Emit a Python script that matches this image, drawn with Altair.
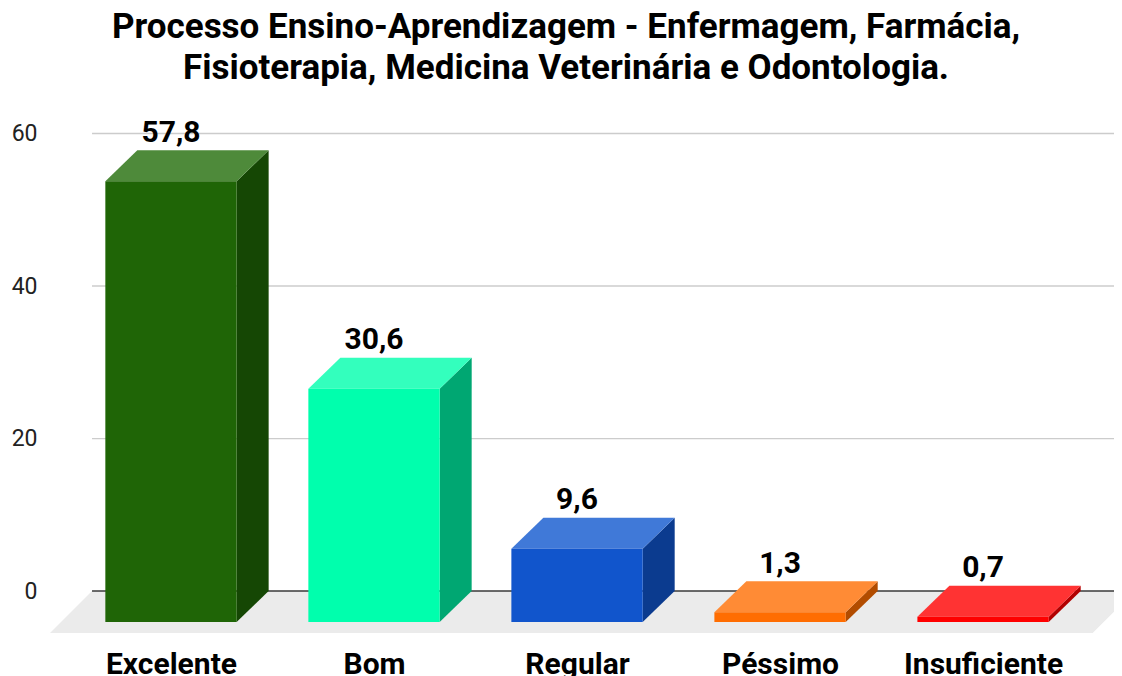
import json
import altair as alt
import pandas as pd

# ---- data ----
categories = ["Excelente", "Bom", "Regular", "Péssimo", "Insuficiente"]
values = [57.8, 30.6, 9.6, 1.3, 0.7]
front_colors = ["#1f6506", "#00ffad", "#1155cc", "#ff6d01", "#ff0000"]
top_colors = ["#4e8a3a", "#33ffbd", "#4079d8", "#ff8b35", "#ff3333"]
side_colors = ["#154704", "#00a772", "#0b3b8f", "#b24c00", "#b20000"]
y_ticks = [0, 20, 40, 60]
grid_ticks = [20, 40, 60]
title_lines = [
    "Processo Ensino-Aprendizagem - Enfermagem, Farmácia,",
    "Fisioterapia, Medicina Veterinária e Odontologia.",
]

# ---- style / geometry parameters ----
HALF = 0.3234        # half width of a bar (x units)
DEPTH_X = 0.1576     # 3D depth shift (x units)
DEPTH_Y = 4.067      # 3D depth shift (y units)
FLOOR_DX = 0.207
X_DOMAIN = [-0.596, 4.645]
Y_DOMAIN = [-5.5, 64.0]
FONT = "Roboto"

n = len(categories)
labels = [f"{v:.1f}".replace(".", ",") for v in values]

fronts, tops, sides, texts = [], [], [], []
for i, (c, v) in enumerate(zip(categories, values)):
    fronts.append(dict(cat=c, x=i - HALF, x2=i + HALF, y=-DEPTH_Y, y2=v - DEPTH_Y, color=front_colors[i]))
    tops.append(dict(cat=c, y=v - DEPTH_Y, x=i - HALF, x2=i + HALF, color=top_colors[i]))
    tops.append(dict(cat=c, y=v, x=i - HALF + DEPTH_X, x2=i + HALF + DEPTH_X, color=top_colors[i]))
    sides.append(dict(cat=c, x=i + HALF, y=-DEPTH_Y, y2=v - DEPTH_Y, color=side_colors[i]))
    sides.append(dict(cat=c, x=i + HALF + DEPTH_X, y=0.0, y2=v, color=side_colors[i]))
    texts.append(dict(cat=c, x=float(i), y=v, label=labels[i]))

floor_right = n - 1 + 0.54
floor = pd.DataFrame([
    dict(y=0.0, x=X_DOMAIN[0] + FLOOR_DX, x2=floor_right + FLOOR_DX),
    dict(y=Y_DOMAIN[0], x=X_DOMAIN[0], x2=floor_right),
])
grid = pd.DataFrame(dict(y=grid_ticks, x=[X_DOMAIN[0] + FLOOR_DX] * len(grid_ticks), x2=[X_DOMAIN[1]] * len(grid_ticks)))
zero = pd.DataFrame(dict(y=[0.0], x=[X_DOMAIN[0] + FLOOR_DX], x2=[X_DOMAIN[1]]))

xs = alt.Scale(domain=X_DOMAIN, nice=False, zero=False)
ys = alt.Scale(domain=Y_DOMAIN, nice=False, zero=False)
xaxis = alt.Axis(
    title=None, values=list(range(n)), labelExpr=f"{json.dumps(categories)}[datum.value]",
    grid=False, ticks=False, domain=False, labelFont=FONT, labelFontSize=30,
    labelFontWeight="bold", labelColor="#000000", labelPadding=40,
    labelBaseline="alphabetic", labelFlush=False, labelOverlap=False,
)
yaxis = alt.Axis(
    title=None, values=y_ticks, grid=False, ticks=False, domain=False,
    labelFont=FONT, labelFontSize=23, labelColor="#222222", labelPadding=13,
)


def X(f):
    return alt.X(f, type="quantitative", scale=xs, axis=xaxis, stack=False)


def Y(f):
    return alt.Y(f, type="quantitative", scale=ys, axis=yaxis, stack=False)


floor_layer = alt.Chart(floor).mark_area(orient="horizontal", color="#ebebeb", clip=True).encode(
    y=Y("y"), x=X("x"), x2="x2"
)
grid_layer = alt.Chart(grid).mark_rule(color="#cccccc", strokeWidth=1.3).encode(
    y=Y("y"), x=X("x"), x2="x2"
)
zero_layer = alt.Chart(zero).mark_rule(color="#3a3a3a", strokeWidth=1.6).encode(
    y=Y("y"), x=X("x"), x2="x2"
)
side_layer = alt.Chart(pd.DataFrame(sides)).mark_area(orient="vertical").encode(
    x=X("x"), y=Y("y"), y2="y2", detail="cat:N", color=alt.Color("color:N", scale=None)
)
top_layer = alt.Chart(pd.DataFrame(tops)).mark_area(orient="horizontal").encode(
    y=Y("y"), x=X("x"), x2="x2", detail="cat:N", color=alt.Color("color:N", scale=None)
)
front_layer = alt.Chart(pd.DataFrame(fronts)).mark_rect().encode(
    x=X("x"), x2="x2", y=Y("y"), y2="y2", color=alt.Color("color:N", scale=None)
)
text_layer = alt.Chart(pd.DataFrame(texts)).mark_text(
    font=FONT, fontSize=30, fontWeight="bold", color="#000000", dy=-8.5,
    align="center", baseline="alphabetic",
).encode(x=X("x"), y=Y("y"), text="label:N")

chart = alt.layer(
    floor_layer, grid_layer, zero_layer, side_layer, top_layer, front_layer, text_layer
).properties(
    width=1064,
    height=530,
    background="white",
    autosize=alt.AutoSizeParams(type="none"),
    padding={"left": 42, "top": 95, "right": 0, "bottom": 43},
    title=alt.TitleParams(
        text=title_lines, font=FONT, fontSize=35, fontWeight="bold", color="#000000",
        anchor="middle", dx=-16, dy=38, lineHeight=41, offset=20, baseline="bottom",
    ),
).configure_view(stroke=None)

chart.save("out.html", embed_options={"renderer": "svg", "actions": False})
